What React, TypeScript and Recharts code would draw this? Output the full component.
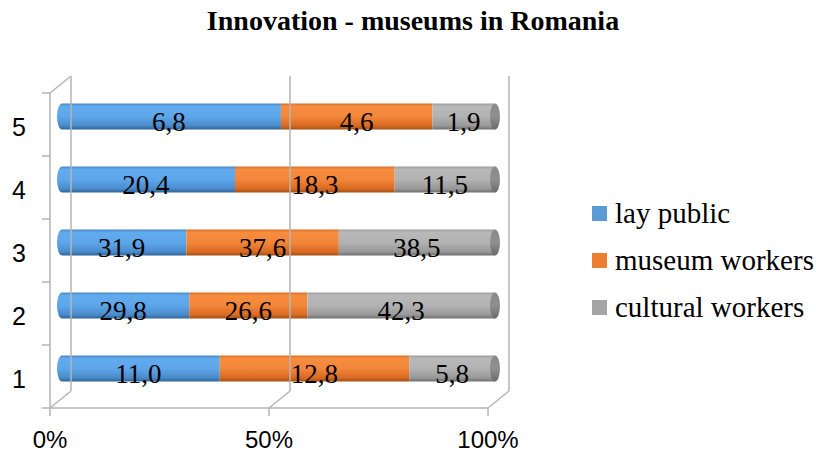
import React from 'react';
import { BarChart, Bar, XAxis, YAxis, Legend, ReferenceLine } from 'recharts';

const categories = ['1', '2', '3', '4', '5'];
const layPublic = [11.0, 29.8, 31.9, 20.4, 6.8];
const museumWorkers = [12.8, 26.6, 37.6, 18.3, 4.6];
const culturalWorkers = [5.8, 42.3, 38.5, 11.5, 1.9];
const xTicks = [0, 0.5, 1];
const seriesNames = ['lay public', 'museum workers', 'cultural workers'];
const legendColors = ['#5B9BD5', '#ED7D31', '#A5A5A5'];

const data = categories.map((c, i) => ({
  cat: c,
  lay: layPublic[i],
  museum: museumWorkers[i],
  cultural: culturalWorkers[i],
}));

const DX = 7;
const DY = -8.5;
const WX = 21;
const WY = -17;
const GRID = '#b5b5b5';

const fmt = (v: number) => v.toFixed(1).replace('.', ',');

function makeShape(key: string, grad: string, capGrad: string, first: boolean, last: boolean) {
  return (props: any) => {
    const { x, y, width, height, payload } = props;
    if (width == null || height == null || isNaN(x) || isNaN(y)) return <g />;
    const bx = x + DX;
    const by = y + DY;
    const rx = 5;
    const cy = by + height / 2;
    const v = payload[key];
    return (
      <g>
        {first ? (
          <path
            d={`M${bx + rx},${by} H${bx + width} V${by + height} H${bx + rx} A${rx},${height / 2} 0 0 1 ${bx + rx},${by} Z`}
            fill={`url(#${grad})`}
          />
        ) : (
          <rect x={bx} y={by} width={width} height={height} fill={`url(#${grad})`} />
        )}
        {last ? <ellipse cx={bx + width} cy={cy} rx={rx} ry={height / 2} fill={`url(#${capGrad})`} /> : null}
        <text
          x={bx + width / 2}
          y={cy + 14}
          textAnchor="middle"
          fontFamily="Liberation Serif"
          fontSize={27}
          fill="#000"
        >
          {fmt(v)}
        </text>
      </g>
    );
  };
}

const wallShape = (kind: 'left' | 'mid' | 'right') => (p: any) => {
  const x = p.x1;
  const top = Math.min(p.y1, p.y2);
  const bottom = Math.max(p.y1, p.y2);
  const s = { stroke: GRID, strokeWidth: 1.5, fill: 'none' };
  const els: any[] = [];
  els.push(<line key="bv" x1={x + WX} y1={top + WY} x2={x + WX} y2={bottom + WY} {...s} />);
  els.push(<line key="bd" x1={x} y1={bottom} x2={x + WX} y2={bottom + WY} {...s} />);
  if (kind === 'left') {
    els.push(<line key="fv" x1={x} y1={top} x2={x} y2={bottom} {...s} />);
    els.push(<line key="td" x1={x} y1={top} x2={x + WX} y2={top + WY} {...s} />);
    const n = categories.length;
    for (let i = 0; i <= n; i++) {
      const yy = top + ((bottom - top) * i) / n;
      els.push(<line key={'t' + i} x1={x - 8} y1={yy} x2={x} y2={yy} {...s} />);
    }
  }
  return <g>{els}</g>;
};

const renderLegend = () => (
  <div style={{ fontFamily: 'Liberation Serif', fontSize: 29, color: '#000' }}>
    {seriesNames.map((n, i) => (
      <div key={n} style={{ display: 'flex', alignItems: 'center', height: 47, whiteSpace: 'nowrap' }}>
        <span style={{ display: 'inline-block', width: 15, height: 15, background: legendColors[i], marginRight: 8 }} />
        <span>{n}</span>
      </div>
    ))}
  </div>
);

const XTick = (p: any) => (
  <text x={p.x} y={p.y} dy={18} textAnchor="middle" fontFamily="Liberation Sans" fontSize={24} fill="#000">
    {`${Math.round(p.payload.value * 100)}%`}
  </text>
);

const YTick = (p: any) => (
  <text x={p.x} y={p.y} dy={11} textAnchor="end" fontFamily="Liberation Sans" fontSize={25} fill="#000">
    {p.payload.value}
  </text>
);

function Grad({ id, stops }: { id: string; stops: [number, string][] }) {
  return (
    <linearGradient id={id} x1="0" y1="0" x2="0" y2="1">
      {stops.map(([o, c], i) => (
        <stop key={i} offset={o} stopColor={c} />
      ))}
    </linearGradient>
  );
}

export default function App() {
  return (
    <div style={{ position: 'absolute', left: 0, top: 0, width: 816, height: 455, background: '#fff' }}>
      <svg width={0} height={0} style={{ position: 'absolute' }}>
        <defs>
          <Grad id="gBlue" stops={[[0, '#4a88c6'], [0.12, '#62abee'], [0.5, '#5ea6ea'], [0.85, '#4a8ccb'], [1, '#2f6497']]} />
          <Grad id="gOrange" stops={[[0, '#d8702a'], [0.12, '#f88d3e'], [0.5, '#f2863a'], [0.85, '#d96b22'], [1, '#a44e15']]} />
          <Grad id="gGray" stops={[[0, '#9e9e9e'], [0.12, '#b9b9b9'], [0.5, '#b2b2b2'], [0.85, '#999999'], [1, '#6f6f6f']]} />
          <Grad id="gGrayCap" stops={[[0, '#8a8a8a'], [0.5, '#8f8f8f'], [1, '#6a6a6a']]} />
        </defs>
      </svg>
      <div
        style={{
          position: 'absolute',
          left: 0,
          top: 0,
          width: 826,
          lineHeight: '42px',
          textAlign: 'center',
          fontFamily: 'Liberation Serif',
          fontWeight: 'bold',
          fontSize: 28,
          color: '#000',
        }}
      >
        Innovation - museums in Romania
      </div>
      <div style={{ position: 'absolute', left: 0, top: 0 }}>
        <BarChart
          width={816}
          height={455}
          data={data}
          layout="vertical"
          stackOffset="expand"
          margin={{ top: 93, right: 328, bottom: 7, left: 0 }}
          barSize={26}
        >
          <XAxis
            type="number"
            domain={[0, 1]}
            ticks={xTicks}
            height={40}
            axisLine={{ stroke: GRID, strokeWidth: 1.5 }}
            tickLine={{ stroke: GRID, strokeWidth: 1.5 }}
            tickSize={8}
            tickMargin={14}
            tick={XTick}
          />
          <YAxis
            type="category"
            dataKey="cat"
            reversed
            width={50}
            axisLine={false}
            tickLine={false}
            tickSize={8}
            tickMargin={16}
            tick={YTick}
          />
          <ReferenceLine x={0} shape={wallShape('left')} />
          <ReferenceLine x={0.5} shape={wallShape('mid')} />
          <ReferenceLine x={1} shape={wallShape('right')} />
          <Legend
            layout="vertical"
            align="center"
            verticalAlign="middle"
            content={renderLegend}
            wrapperStyle={{ position: 'absolute', left: 592, top: 190, width: 224, height: 141 }}
          />
          <Bar
            dataKey="lay"
            name={seriesNames[0]}
            stackId="a"
            fill="#5B9BD5"
            isAnimationActive={false}
            shape={makeShape('lay', 'gBlue', 'gBlue', true, false)}
          />
          <Bar
            dataKey="museum"
            name={seriesNames[1]}
            stackId="a"
            fill="#ED7D31"
            isAnimationActive={false}
            shape={makeShape('museum', 'gOrange', 'gOrange', false, false)}
          />
          <Bar
            dataKey="cultural"
            name={seriesNames[2]}
            stackId="a"
            fill="#A5A5A5"
            isAnimationActive={false}
            shape={makeShape('cultural', 'gGray', 'gGrayCap', false, true)}
          />
        </BarChart>
      </div>
    </div>
  );
}
